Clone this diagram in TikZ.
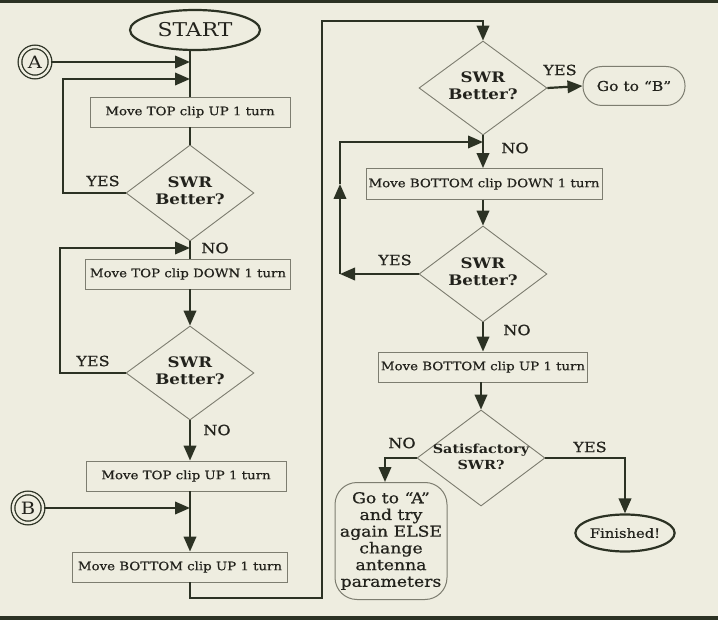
\documentclass[tikz,border=0pt]{standalone}
\usepackage{fontspec}
\setmainfont{DejaVu Serif}[FakeStretch=1.15]
\newfontfamily\medfont{DejaVu Serif}[FakeStretch=1.15,FakeBold=0.6]
\usetikzlibrary{arrows.meta,shapes.geometric}
\definecolor{bg}{RGB}{238,237,224}
\definecolor{ink}{RGB}{44,50,36}
\definecolor{txt}{RGB}{34,34,28}
\definecolor{edge}{RGB}{125,125,112}
\newcommand{\zw}[1]{\makebox[0pt]{\begin{tabular}{@{}c@{}}#1\end{tabular}}}
\begin{document}
\begin{tikzpicture}[x=1pt,y=-1pt,
  >={Triangle[length=15pt,width=12.5pt]},
  conn/.style={draw=ink,line width=2.2pt},
  procbox/.style={draw=edge,line width=0.9pt,rectangle,minimum height=30pt,inner sep=0pt,text=txt,font=\medfont\fontsize{11.6}{14}\selectfont},
  dia/.style={draw=edge,line width=0.9pt,diamond,minimum width=128pt,minimum height=96pt,inner sep=0pt,text=txt,font=\fontsize{14.5}{17}\selectfont\bfseries},
  lbl/.style={text=txt,font=\medfont\fontsize{14}{16}\selectfont,inner sep=0pt},
  termo/.style={draw=ink,line width=2.2pt,ellipse,inner sep=0pt,text=txt},
  rbox/.style={draw=edge,line width=1pt,rectangle,inner sep=0pt,text=txt},
  conncirc/.style={draw=ink,circle,double=bg,line width=1.3pt,double distance=2.4pt,minimum size=30pt,inner sep=0pt,text=txt,font=\fontsize{17}{18}\selectfont}
]
\useasboundingbox (0,0) rectangle (718,620);
\fill[bg] (0,0) rectangle (718,620);
\fill[ink] (0,0) rectangle (718,3);
\fill[ink] (0,616) rectangle (718,620);

% left column
\node[termo,minimum width=130pt,minimum height=40pt,font=\fontsize{19}{20}\selectfont] (start) at (195,30) {START};
\node[conncirc] (A) at (35,62) {A};
\coordinate (jA) at (190,62);
\coordinate (jL1) at (190,79);
\node[procbox,minimum width=200pt] (b1) at (190,112) {Move TOP clip UP 1 turn};
\node[dia] (d1) at (190,193) {\zw{SWR\\Better?}};
\coordinate (jL2) at (190,248);
\node[procbox,minimum width=205pt] (b2) at (188,274) {Move TOP clip DOWN 1 turn};
\node[dia,minimum height=94pt] (d2) at (190,373) {\zw{SWR\\Better?}};
\node[procbox,minimum width=200pt] (b3) at (186,476) {Move TOP clip UP 1 turn};
\node[conncirc] (B) at (28,508) {B};
\coordinate (jB) at (190,508);
\node[procbox,minimum width=215pt] (b4) at (180,567) {Move BOTTOM clip UP 1 turn};
\coordinate (lp1) at (63,79);
\coordinate (lp2) at (60,248);
\coordinate (r1) at (322,598);
\coordinate (r2) at (322,21);

% right column
\node[dia,minimum height=94pt] (d3) at (483,88) {\zw{SWR\\Better?}};
\node[rbox,rounded corners=19pt,minimum width=102pt,minimum height=39pt,font=\medfont\fontsize{13.5}{16}\selectfont] (gob) at (634,86) {Go to “B”};
\coordinate (jL3) at (483,142);
\node[procbox,minimum width=236pt,minimum height=31pt] (b5) at (484,184) {Move BOTTOM clip DOWN 1 turn};
\node[dia] (d4) at (483,274) {\zw{SWR\\Better?}};
\coordinate (l1) at (340,274);
\coordinate (lm) at (340,184);
\coordinate (l2) at (340,142);
\node[procbox,minimum width=209pt] (b6) at (483,367) {Move BOTTOM clip UP 1 turn};
\node[dia,font=\fontsize{12.5}{16}\selectfont\bfseries] (d5) at (481,458) {\zw{Satisfactory\\SWR?}};
\node[rbox,rounded corners=22pt,minimum width=112pt,minimum height=117pt,align=center,font=\medfont\fontsize{15}{16.7}\selectfont] (goa) at (391,541) {Go to “A”\\and try\\again ELSE\\change\\antenna\\parameters};
\node[termo,minimum width=98pt,minimum height=37pt,font=\medfont\fontsize{12.8}{15}\selectfont] (fin) at (625,533) {Finished!};

% labels
\node[lbl] at (103,181) {YES};
\node[lbl] at (215,248) {NO};
\node[lbl] at (93,361) {YES};
\node[lbl] at (217,430) {NO};
\node[lbl] at (560,70) {YES};
\node[lbl] at (515,148) {NO};
\node[lbl] at (395,260) {YES};
\node[lbl] at (517,330) {NO};
\node[lbl] at (402,443) {NO};
\node[lbl] at (590,447) {YES};

% connectors left
\draw[conn] (jA |- start.south) -- (b1.north);
\draw[conn,->] (A.east) -- (jA);
\draw[conn,->] (d1.west) -| (lp1) -- (jL1);
\draw[conn] (b1.south -| d1.north) -- (d1.north);
\draw[conn] (d1.south) -- (jL2 |- b2.north);
\draw[conn,->] (d2.west) -| (lp2) -- (jL2);
\draw[conn,->] (jL2 |- b2.south) -- (d2.north);
\draw[conn,->] (d2.south) -- (jB |- b3.north);
\draw[conn,->] (jB |- b3.south) -- (jB |- b4.north);
\draw[conn,->] (B.east) -- (jB);
\draw[conn,->] (jB |- b4.south) |- (r1) -- (r2) -| (d3.north);

% connectors right
\draw[conn,->] (d3.east) -- (gob.west);
\draw[conn,->] (d3.south) -- (d3.south |- b5.north);
\draw[conn,->] (d4.west) -- (l1);
\draw[conn,->] (l1) -- (lm);
\draw[conn,->] (lm) -- (l2) -- (jL3);
\draw[conn,->] (d4.north |- b5.south) -- (d4.north);
\draw[conn,->] (d4.south) -- (d4.south |- b6.north);
\draw[conn,->] (d5.north |- b6.south) -- (d5.north);
\draw[conn,->] (d5.west) -| (goa.north -| 385,0);
\draw[conn,->] (d5.east) -| (fin.north);
\end{tikzpicture}
\end{document}
